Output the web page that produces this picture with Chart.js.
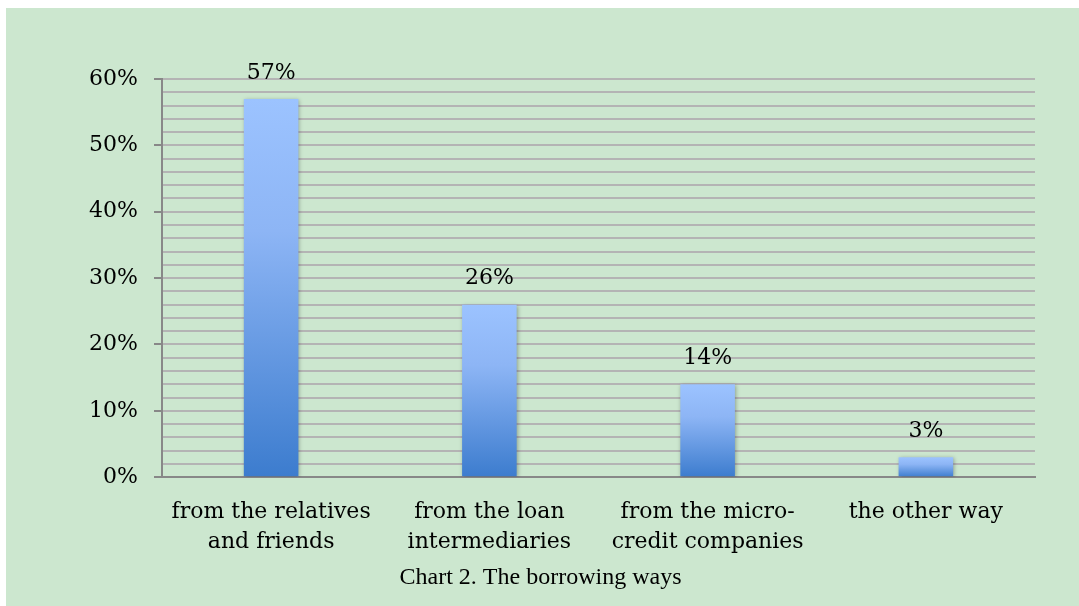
<!DOCTYPE html>
<html>
<head>
<meta charset="utf-8">
<script src="https://cdn.jsdelivr.net/npm/chart.js@4.4.0/dist/chart.umd.min.js"></script>
<style>
  body{margin:0;background:#fff;}
  #wrap{position:absolute;left:6px;top:8px;width:1073px;height:598px;background:#cce7cf;}
</style>
</head>
<body>
<div id="wrap"><canvas id="graf"></canvas></div>
<script>
(function(){

const categorias = [
  ["from the relatives","and friends"],
  ["from the loan","intermediaries"],
  ["from the micro-","credit companies"],
  ["the other way"]
];
const valores = [0.57, 0.26, 0.14, 0.03];
const rotulos = ["57%","26%","14%","3%"];
const titulo = "Chart 2. The borrowing ways";

const fonte = "'DejaVu Serif', serif";

// gradiente por barra (claro em cima, escuro embaixo)
function corBarra(ctx){
  const chart = ctx.chart;
  if(!chart.chartArea || ctx.raw==null) return "#6a9ee6";
  const y = chart.scales.y;
  const topo = y.getPixelForValue(ctx.raw);
  const base = y.getPixelForValue(0);
  const g = chart.ctx.createLinearGradient(0, topo, 0, base);
  g.addColorStop(0, "#9cc3ff");
  g.addColorStop(0.35, "#8db5f5");
  g.addColorStop(1, "#3c7cce");
  return g;
}

const sombra = {
  id:"sombra",
  beforeDatasetsDraw(chart){
    const c = chart.ctx;
    c.save();
    c.shadowColor = "rgba(0,0,0,0.3)";
    c.shadowBlur = 4;
    c.shadowOffsetX = 1;
    c.shadowOffsetY = 1;
  },
  afterDatasetsDraw(chart){
    chart.ctx.restore();
    // rotulos de valor
    const c = chart.ctx;
    const meta = chart.getDatasetMeta(0);
    c.save();
    c.font = "22px " + fonte;
    c.fillStyle = "#000";
    c.textAlign = "center";
    c.textBaseline = "middle";
    meta.data.forEach((bar,i)=>{
      c.fillText(rotulos[i], bar.x, bar.y - 26);
    });
    c.restore();
  }
};

new Chart(document.getElementById("graf"),{
  type:"bar",
  data:{
    labels:categorias,
    datasets:[{
      data:valores,
      backgroundColor:corBarra,
      barPercentage:0.25,
      categoryPercentage:1.0
    }]
  },
  options:{
    responsive:true,
    maintainAspectRatio:false,
    animation:false,
    layout:{padding:{top:71,right:44,left:40,bottom:14}},
    plugins:{
      legend:{display:false},
      tooltip:{enabled:false},
      title:{
        display:true,
        position:"bottom",
        text:titulo,
        color:"#000",
        font:{family:"'Liberation Serif', serif",size:24,weight:"normal"},
        padding:{top:0,bottom:0}
      }
    },
    scales:{
      x:{
        grid:{display:false},
        border:{display:true,color:"#888",width:2},
        afterFit:(s)=>{ s.height = 86; },
        ticks:{
          color:"#000",
          padding:12,
          font:{family:fonte,size:22,lineHeight:1.36}
        }
      },
      y:{
        min:0,
        max:0.6,
        border:{display:true,color:"#888",width:2},
        afterFit:(s)=>{ s.width = 116; },
        grid:{
          color:"#b4b4b4",
          lineWidth:2,
          tickLength:8,
          tickColor:(ctx)=> (Math.round(ctx.tick.value*100)%10===0 ? "#888" : "rgba(0,0,0,0)")
        },
        ticks:{
          stepSize:0.02,
          autoSkip:false,
          color:"#000",
          padding:16,
          font:{family:fonte,size:22},
          callback:(v)=>{
            const p = Math.round(v*100);
            return p%10===0 ? p+"%" : "";
          }
        }
      }
    }
  },
  plugins:[sombra]
});

})();
</script>
</body>
</html>
